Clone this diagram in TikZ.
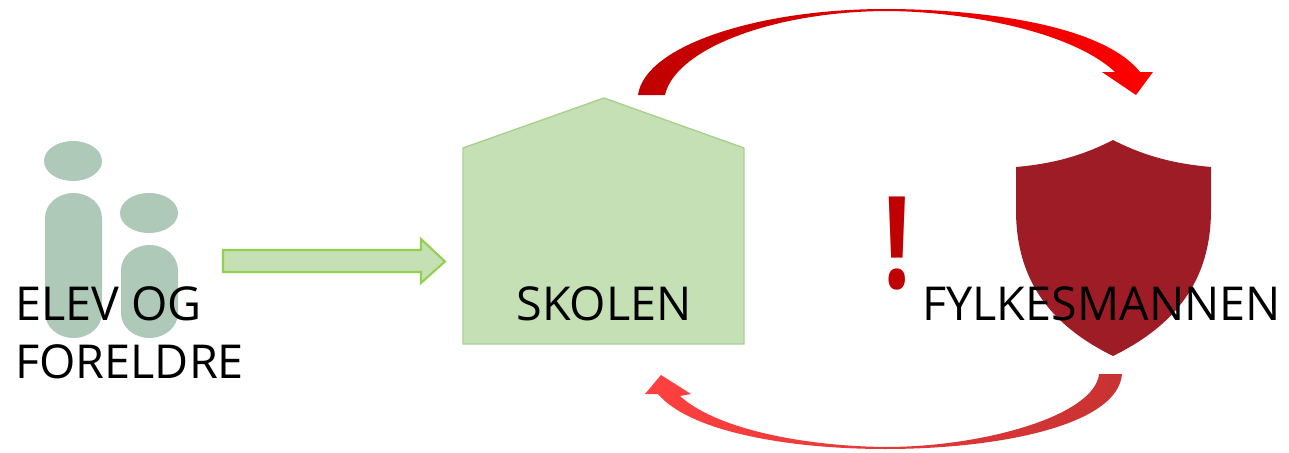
\documentclass[tikz,border=0pt]{standalone}
\usepackage{graphicx}
\usepackage{fontspec}
\setmainfont{Open Sans}
\definecolor{skole}{RGB}{197,224,180}
\definecolor{skolekant}{RGB}{169,209,142}
\definecolor{pilkant}{RGB}{146,208,80}
\definecolor{elev}{RGB}{174,201,184}
\definecolor{skjold}{RGB}{158,28,38}
\definecolor{varsel}{RGB}{192,0,0}
\definecolor{svarstart}{RGB}{200,50,50}
\definecolor{svarmidt}{RGB}{208,10,10}
\definecolor{svarspiss}{RGB}{255,64,64}
\tikzset{label/.style={inner sep=0pt,anchor=base west,font=\fontsize{26.6pt}{31pt}\selectfont}}

\begin{document}
\begin{tikzpicture}[x=0.02cm,y=-0.02cm]
\useasboundingbox (0,0) rectangle (1289,453);
\fill[elev] (73,161) ellipse (29 and 20); % head
\fill[elev] (149,213) ellipse (29 and 20); % head
\fill[elev] (45,218) .. controls (45,204) and (58,193) .. (73.5,193) .. controls (89,193) and (102,204) .. (102,218) -- (102,313) .. controls (102,327) and (89,338) .. (73.5,338) .. controls (58,338) and (45,327) .. (45,313) -- cycle; % body
\fill[elev] (121,270) .. controls (121,256) and (134,245) .. (149.5,245) .. controls (165,245) and (178,256) .. (178,270) -- (178,313) .. controls (178,327) and (165,338) .. (149.5,338) .. controls (134,338) and (121,327) .. (121,313) -- cycle; % body

\draw[skolekant,fill=skole,line width=0.8pt] (463,148) -- (604,98) -- (744,148) -- (744,344) -- (463,344) -- cycle; % house
\draw[pilkant,fill=skole,line width=1.2pt] (223,250) -- (421,250) -- (421,239) -- (445,261.5) -- (421,283) -- (421,272) -- (223,272) -- cycle;

\shade[left color=varsel,middle color=red!88!black,right color=red] (638,95) .. controls (645,45) and (760,9) .. (885,9) .. controls (970,9) and (1100,22) .. (1140,72) -- (1153,72) -- (1136,95) -- (1102,72) -- (1115,72) .. controls (1070,30) and (960,11) .. (885,11) .. controls (770,12) and (675,50) .. (665,95) -- cycle; % upper arrow
\shade[left color=svarspiss,middle color=svarmidt,right color=svarstart] (1122,374) .. controls (1118,425) and (1000,449) .. (885,449) .. controls (790,449) and (690,432) .. (658,394) -- (645,394) -- (661,375) -- (691,394) -- (680,396) .. controls (715,428) and (800,446) .. (885,447) .. controls (985,447) and (1095,415) .. (1099,374) -- cycle; % lower arrow

\fill[skjold] (1113,140) .. controls (1080,157) and (1050,164) .. (1016,167) -- (1016,210) .. controls (1016,280) and (1050,325) .. (1113,356) .. controls (1176,325) and (1211,280) .. (1211,210) -- (1211,167) .. controls (1177,164) and (1146,157) .. (1113,140) -- cycle; % shield

\node[inner sep=0pt,anchor=base,text=varsel,font=\bfseries\fontsize{73pt}{73pt}\selectfont] (mark) at (897.5,288) {\scalebox{0.75}[1]{!}};
\node[label] (elev) at (15,320) {ELEV OG};
\node[label] (foreldre) at (15,378) {FORELDRE};
\node[label] (skolen) at (516,320) {SKOLEN};
\node[label] (fylke) at (922,320) {FYLKESMANNEN};
\end{tikzpicture}
\end{document}
